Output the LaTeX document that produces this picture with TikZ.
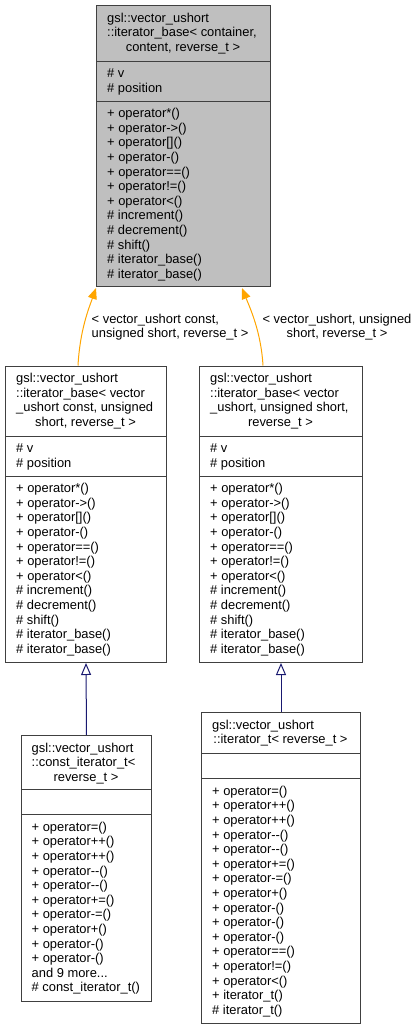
\documentclass[tikz,border=0pt]{standalone}
\usepackage{fontspec}
\setmainfont{Liberation Sans}
\usetikzlibrary{arrows.meta}
\newcommand\dxfont{\fontsize{12.9}{14.6}\selectfont}
\newcommand\fl{\rule{0pt}{10pt}}
\definecolor{bordercol}{HTML}{404040}
\definecolor{basefill}{HTML}{BFBFBF}
\definecolor{edgeorange}{HTML}{FFA500}
\definecolor{edgeblue}{HTML}{191970}
\tikzset{
  comp/.style={draw=bordercol, line width=1pt, rectangle, inner sep=0pt, anchor=north west, fill=white},
  basecomp/.style={comp, fill=basefill},
  txt/.style={inner sep=0pt, anchor=north west, align=left, font=\dxfont},
  ctxt/.style={inner sep=0pt, anchor=base, font=\dxfont},
  tmpl/.style={draw=edgeorange, line width=1pt, -{Triangle[length=11pt,width=9pt,fill=edgeorange]}},
  inh/.style={draw=edgeblue, line width=1pt, -{Triangle[open,length=12pt,width=10pt,fill=white]}},
  lbl/.style={inner sep=0pt, font=\dxfont}
}
\begin{document}
\begin{tikzpicture}[x=1pt,y=-1pt]
\useasboundingbox (0,0) rectangle (419,1029);

% ---------- top: iterator_base< container, content, reverse_t >
\node[basecomp, minimum width=174pt, minimum height=55.5pt] (BT) at (96,5) {};
\node[basecomp, minimum width=174pt, minimum height=40pt] (BA) at (96,60.5) {};
\node[basecomp, minimum width=174pt, minimum height=185.5pt] (BM) at (96,100.5) {};
\node[txt] (BTt) at (107,12) {\fl gsl::vector\_ushort\\::iterator\_base< container,};
\node[ctxt] (BTc) at (183,51.2) {content, reverse\_t >};
\node[txt] (BAt) at (107,67.5) {\fl\# v\\\# position};
\node[txt] (BMt) at (107,107.5) {\fl + operator*()\\+ operator->()\\+ operator[]()\\+ operator-()\\+ operator==()\\+ operator!=()\\+ operator<()\\\# increment()\\\# decrement()\\\# shift()\\\# iterator\_base()\\\# iterator\_base()};

% ---------- left middle
\node[comp, minimum width=161pt, minimum height=70pt] (LT) at (5,365.5) {};
\node[comp, minimum width=161pt, minimum height=40pt] (LA) at (5,435.5) {};
\node[comp, minimum width=161pt, minimum height=186.5pt] (LM) at (5,475.5) {};
\node[txt] (LTt) at (16,372.5) {\fl gsl::vector\_ushort\\::iterator\_base< vector\\\_ushort const, unsigned};
\node[ctxt] (LTc) at (85.5,426.3) {short, reverse\_t >};
\node[txt] (LAt) at (16,442.5) {\fl\# v\\\# position};
\node[txt] (LMt) at (16,482.5) {\fl + operator*()\\+ operator->()\\+ operator[]()\\+ operator-()\\+ operator==()\\+ operator!=()\\+ operator<()\\\# increment()\\\# decrement()\\\# shift()\\\# iterator\_base()\\\# iterator\_base()};

% ---------- right middle
\node[comp, minimum width=163pt, minimum height=70pt] (RT) at (199,365.5) {};
\node[comp, minimum width=163pt, minimum height=40pt] (RA) at (199,435.5) {};
\node[comp, minimum width=163pt, minimum height=186.5pt] (RM) at (199,475.5) {};
\node[txt] (RTt) at (210,372.5) {\fl gsl::vector\_ushort\\::iterator\_base< vector\\\_ushort, unsigned short,};
\node[ctxt] (RTc) at (280.5,426.3) {reverse\_t >};
\node[txt] (RAt) at (210,442.5) {\fl\# v\\\# position};
\node[txt] (RMt) at (210,482.5) {\fl + operator*()\\+ operator->()\\+ operator[]()\\+ operator-()\\+ operator==()\\+ operator!=()\\+ operator<()\\\# increment()\\\# decrement()\\\# shift()\\\# iterator\_base()\\\# iterator\_base()};

% ---------- bottom left: const_iterator_t
\node[comp, minimum width=130pt, minimum height=54pt] (CT) at (21,735) {};
\node[comp, minimum width=130pt, minimum height=25pt] (CA) at (21,789) {};
\node[comp, minimum width=130pt, minimum height=187pt] (CM) at (21,814) {};
\node[txt] (CTt) at (31.5,742) {\fl gsl::vector\_ushort\\::const\_iterator\_t<};
\node[ctxt] (CTc) at (86,781.2) {reverse\_t >};
\node[txt] (CMt) at (31.5,821) {\fl + operator=()\\+ operator++()\\+ operator++()\\+ operator-{}-()\\+ operator-{}-()\\+ operator+=()\\+ operator-=()\\+ operator+()\\+ operator-()\\+ operator-()\\and 9 more...\\\# const\_iterator\_t()};

% ---------- bottom right: iterator_t
\node[comp, minimum width=159pt, minimum height=41pt] (IT) at (201,712) {};
\node[comp, minimum width=159pt, minimum height=25pt] (IA) at (201,753) {};
\node[comp, minimum width=159pt, minimum height=245pt] (IM) at (201,778) {};
\node[txt] (ITt) at (212,719) {\fl gsl::vector\_ushort};
\node[ctxt] (ITc) at (280.5,743.6) {::iterator\_t< reverse\_t >};
\node[txt] (IMt) at (212,785) {\fl + operator=()\\+ operator++()\\+ operator++()\\+ operator-{}-()\\+ operator-{}-()\\+ operator+=()\\+ operator-=()\\+ operator+()\\+ operator-()\\+ operator-()\\+ operator-()\\+ operator==()\\+ operator!=()\\+ operator<()\\+ iterator\_t()\\\# iterator\_t()};

% ---------- template instantiation edges
\draw[tmpl] ([xshift=73pt]LT.north west) .. controls +(2,-36) and +(-7,20) .. ([yshift=-1pt]BM.south west);
\draw[tmpl] ([xshift=64pt]RT.north west) .. controls +(-2,-34) and +(8,20) .. ([xshift=146pt,yshift=-1pt]BM.south west);
\node[lbl, anchor=north west, align=left] (lab1) at (91.5,312.8) {\fl< vector\_ushort const,\\unsigned short, reverse\_t >};
\node[lbl, anchor=north, align=center] (lab2) at (337,312.8) {\fl< vector\_ushort, unsigned\\short, reverse\_t >};

% ---------- inheritance edges
\draw[inh] (CT.north) -- (LM.south);
\draw[inh] (IT.north) -- (RM.south);
\end{tikzpicture}
\end{document}
